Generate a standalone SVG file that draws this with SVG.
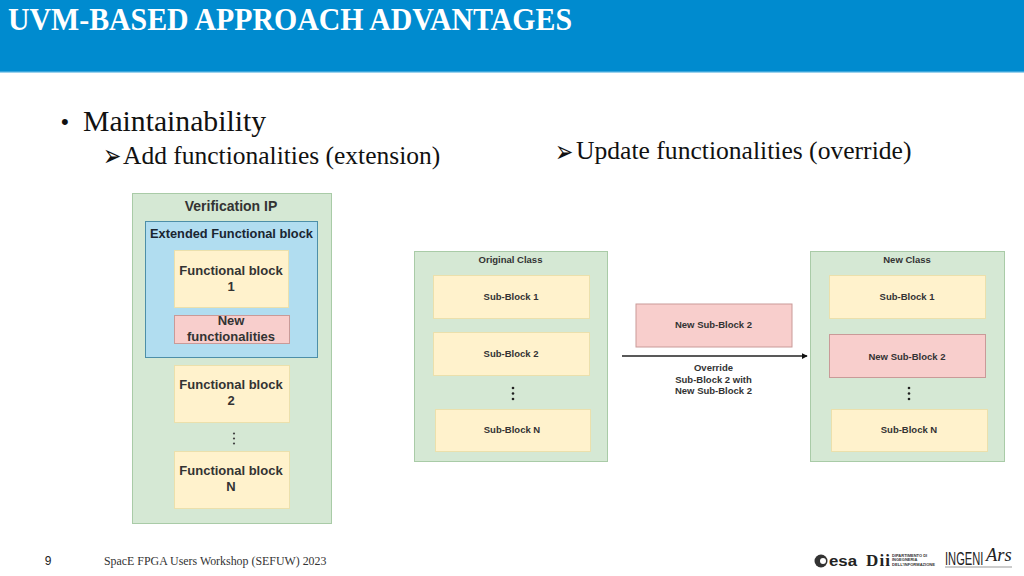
<svg xmlns="http://www.w3.org/2000/svg" width="1024" height="576" viewBox="0 0 1024 576">
<defs>
<marker id="arrow" viewBox="0 0 8 8" refX="7" refY="4" markerWidth="6" markerHeight="6" markerUnits="userSpaceOnUse" orient="auto"><path d="M0 0L8 4L0 8Z" fill="#111"/></marker>
<style>
.panel{fill:#d5e8d4;stroke:#a9cba7;stroke-width:1}
.blue{fill:#b1ddf0;stroke:#4d8fa8;stroke-width:1}
.yellow{fill:#fff2cc;stroke:#ebe0ac;stroke-width:1}
.red{fill:#f8cecc;stroke:#c99a98;stroke-width:1}
.d{font-family:"Liberation Sans",Arial,sans-serif;font-weight:700;fill:#333;text-anchor:middle}
.l{font-size:13px}
.s{font-size:9.5px}
.t{font-family:"Liberation Serif","Times New Roman",serif;fill:#111}
.dot{fill:#444}
</style>
</defs>
<g id="header">
<rect x="0" y="0" width="1024" height="72" fill="#008bcf"/>
<rect x="0" y="71" width="1024" height="1.5" fill="#3aa6dc"/>
<text x="8" y="30" font-family="'Liberation Serif','Times New Roman',serif" font-weight="700" font-size="31.500px" fill="#fff" textLength="564" lengthAdjust="spacingAndGlyphs">UVM-BASED APPROACH ADVANTAGES</text>
</g>
<g id="bullets">
<text class="t" x="61" y="129" font-size="22px" style="font-family:'Liberation Sans',sans-serif">•</text>
<text class="t" x="83" y="131" font-size="29.700px">Maintainability</text>
<text transform="translate(103,166) scale(1.150,1.600)" font-size="19px" font-family="'DejaVu Sans',sans-serif" fill="#111">➢</text>
<text class="t" x="123" y="164" font-size="25.500px">Add functionalities (extension)</text>
<text transform="translate(555,162) scale(1.150,1.600)" font-size="19px" font-family="'DejaVu Sans',sans-serif" fill="#111">➢</text>
<text class="t" x="576" y="159" font-size="25.600px">Update functionalities (override)</text>
</g>
<g id="verification-ip">
<rect class="panel" x="132.500" y="193.500" width="199" height="330"/>
<text class="d" x="231" y="211" font-size="14px">Verification IP</text>
</g>
<g id="extended-block">
<rect class="blue" x="145.500" y="221.500" width="172" height="136"/>
<text class="d" x="231.500" y="238" font-size="12.800px" style="fill:#1a2530">Extended Functional block</text>
</g>
<g id="fb1"><rect class="yellow" x="174.500" y="250.500" width="114" height="57"/><text class="d l" x="231" y="275">Functional block</text><text class="d l" x="231" y="291">1</text></g>
<g id="new-func"><rect class="red" x="174.500" y="315.500" width="115" height="28"/><text class="d l" x="231" y="325">New</text><text class="d l" x="231" y="341">functionalities</text></g>
<g id="fb2"><rect class="yellow" x="174.500" y="365.500" width="115" height="57"/><text class="d l" x="231" y="389">Functional block</text><text class="d l" x="231" y="405">2</text></g>
<g id="dots1"><circle class="dot" cx="234" cy="433.500" r="1.100"/><circle class="dot" cx="234" cy="438.500" r="1.100"/><circle class="dot" cx="234" cy="443.500" r="1.100"/></g>
<g id="fbn"><rect class="yellow" x="174.500" y="451.500" width="115" height="57"/><text class="d l" x="231" y="475">Functional block</text><text class="d l" x="231" y="491">N</text></g>

<g id="original-class"><rect class="panel" x="414.500" y="251.500" width="193" height="210"/><text class="d s" x="510.500" y="263">Original Class</text></g>
<g id="o-sub1"><rect class="yellow" x="433.500" y="275.500" width="156" height="43"/><text class="d s" x="511" y="300">Sub-Block 1</text></g>
<g id="o-sub2"><rect class="yellow" x="433.500" y="332.500" width="156" height="43"/><text class="d s" x="511" y="357">Sub-Block 2</text></g>
<g id="dots2"><circle cx="513" cy="388" r="1.300" fill="#222"/><circle cx="513" cy="393.500" r="1.300" fill="#222"/><circle cx="513" cy="399" r="1.300" fill="#222"/></g>
<g id="o-subn"><rect class="yellow" x="435.500" y="409.500" width="155" height="42"/><text class="d s" x="512" y="433">Sub-Block N</text></g>

<g id="new-sub"><rect class="red" x="636" y="304" width="156" height="43"/><text class="d s" x="713.500" y="328">New Sub-Block 2</text></g>
<g id="connectors"><line x1="622" y1="356" x2="807" y2="356" stroke="#222" stroke-width="1.500" marker-end="url(#arrow)"/></g>
<g id="override-label"><text class="d s" x="713.500" y="371">Override</text><text class="d s" x="713.500" y="382.500">Sub-Block 2 with</text><text class="d s" x="713.500" y="394">New Sub-Block 2</text></g>

<g id="new-class"><rect class="panel" x="810.500" y="251.500" width="194" height="210"/><text class="d s" x="907" y="263">New Class</text></g>
<g id="n-sub1"><rect class="yellow" x="829.500" y="275.500" width="156" height="43"/><text class="d s" x="907" y="300">Sub-Block 1</text></g>
<g id="n-sub2"><rect class="red" x="829.500" y="334.500" width="156" height="43"/><text class="d s" x="907" y="360">New Sub-Block 2</text></g>
<g id="dots3"><circle cx="909" cy="388" r="1.300" fill="#222"/><circle cx="909" cy="393.500" r="1.300" fill="#222"/><circle cx="909" cy="399" r="1.300" fill="#222"/></g>
<g id="n-subn"><rect class="yellow" x="831.500" y="409.500" width="156" height="42"/><text class="d s" x="909" y="433">Sub-Block N</text></g>

<g id="footer">
<text x="48" y="565" font-family="'Liberation Sans',sans-serif" font-size="12px" fill="#222" text-anchor="middle">9</text>
<text x="104" y="565" font-family="'Liberation Serif',serif" font-size="11.900px" fill="#333">SpacE FPGA Users Workshop (SEFUW) 2023</text>
</g>
<g id="logos">
<circle cx="821" cy="561" r="6.500" fill="#333"/><circle cx="823" cy="561" r="3" fill="#fff"/>
<text x="829" y="566" font-family="'Liberation Sans',sans-serif" font-weight="700" font-size="14.500px" fill="#222" textLength="28" lengthAdjust="spacingAndGlyphs">esa</text>
<text x="866" y="566" font-family="'Liberation Serif',serif" font-weight="700" font-size="17px" fill="#222" textLength="24">Dii</text>
<text x="892" y="556.500" font-family="'Liberation Sans',sans-serif" font-weight="700" font-size="4px" fill="#333">DIPARTIMENTO DI</text>
<text x="892" y="561" font-family="'Liberation Sans',sans-serif" font-weight="700" font-size="4px" fill="#333">INGEGNERIA</text>
<text x="892" y="565.500" font-family="'Liberation Sans',sans-serif" font-weight="700" font-size="4px" fill="#333" textLength="43" lengthAdjust="spacingAndGlyphs">DELL'INFORMAZIONE</text>
<text transform="translate(945,565) scale(0.620,1)" font-family="'Liberation Sans',sans-serif" font-size="18px" fill="#222">INGENI</text>
<text x="986" y="561" font-family="'Liberation Serif',serif" font-style="italic" font-size="18.500px" fill="#222">Ars</text>
<line x1="945" y1="567" x2="1012" y2="567" stroke="#999" stroke-width="1"/>
</g>
</svg>
